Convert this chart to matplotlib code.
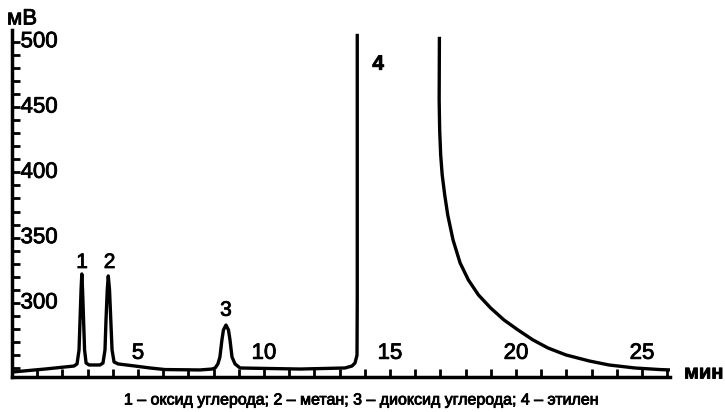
import matplotlib

matplotlib.use("Agg")

import numpy as np
from matplotlib import patheffects as pe
from matplotlib import pyplot as plt
from matplotlib.ticker import MultipleLocator
from matplotlib.transforms import blended_transform_factory

plt.rcParams["font.family"] = ["Liberation Sans", "DejaVu Sans"]

# chromatogram trace (minutes, mV)
time_min = [0.00, 1.31, 2.46, 2.58, 2.66, 2.70, 2.74, 2.77, 2.80, 2.84, 2.88, 2.94, 3.06,
            3.49, 3.61, 3.69, 3.73, 3.78, 3.82, 3.87, 3.92, 3.97, 4.05, 4.21,
            4.88, 5.48, 6.07, 7.46, 7.94,
            8.06, 8.17, 8.25, 8.33, 8.39, 8.49, 8.59, 8.65, 8.73, 8.85, 9.05,
            11.43, 13.21, 13.49, 13.61, 13.69, 13.70, 13.70]
signal_mv = [247.1, 249.4, 251.7, 253.3, 264.0, 287.0, 310.0, 322.2, 310.0, 287.0, 264.0, 254.0, 252.5,
             252.5, 254.0, 264.0, 287.0, 310.0, 320.7, 310.0, 287.0, 264.0, 254.8, 253.3,
             251.7, 250.2, 249.0, 248.7, 249.4,
             250.2, 253.3, 258.6, 271.7, 279.3, 283.1, 279.3, 271.7, 258.6, 253.3, 250.2,
             249.4, 250.2, 251.7, 254.0, 260.0, 302.0, 506.1]

# tail of the ethylene peak, after it comes back on scale
tail_min = [16.96, 16.95, 16.97, 17.01, 17.07, 17.17, 17.29, 17.50, 17.78, 18.11, 18.51,
            18.99, 19.52, 20.08, 20.67, 21.27, 21.98, 22.90, 23.69, 24.72, 25.71, 26.11]
tail_mv = [503.8, 455.6, 432.6, 413.4, 398.1, 382.8, 367.4, 348.3, 330.7, 317.6, 306.1,
           296.2, 287.0, 279.3, 271.7, 265.5, 260.2, 255.6, 252.5, 250.2, 249.0, 248.7]

peak_names = ["1", "2", "3", "4"]
peak_label_x = [2.78, 3.87, 8.49, 14.53]
peak_label_y = [331.0, 331.0, 294.4, 482.8]

x_tick_labels = [5, 10, 15, 20, 25]
y_tick_labels = [300, 350, 400, 450, 500]

caption = "1 – оксид углерода; 2 – метан; 3 – диоксид углерода; 4 – этилен"

W, H = 725, 412
fig = plt.figure(figsize=(W / 100, H / 100), dpi=100)
ax = fig.add_axes([12 / W, 35 / H, 658 / W, 347 / H])

# the scanned figure has slightly heavy type
heavy = [pe.withStroke(linewidth=0.6, foreground="black")]

for xs, ys in ((time_min, signal_mv), (tail_min, tail_mv)):
    ax.plot(xs, ys, color="black", lw=2.4, solid_joinstyle="round",
            solid_capstyle="butt")

ax.set_xlim(0, 26.11)
ax.set_ylim(243.3, 509)

for side in ("top", "right"):
    ax.spines[side].set_visible(False)
for side in ("left", "bottom"):
    ax.spines[side].set_linewidth(2.5)

ax.xaxis.set_major_locator(MultipleLocator(1))
ax.set_yticks(np.arange(250, 501, 10))
ax.tick_params(direction="in", length=5.5, width=2.0, labelbottom=False, labelleft=False)

tx = blended_transform_factory(ax.transData, ax.transAxes)
for v in x_tick_labels:
    ax.text(v, 0.038, str(v), transform=tx, ha="center", va="bottom", fontsize=16,
            path_effects=heavy)

ty = blended_transform_factory(ax.transAxes, ax.transData)
for v in y_tick_labels:
    ax.text(0.013, v, str(v), transform=ty, ha="left", va="center", fontsize=16,
            path_effects=heavy)

for name, px, py in zip(peak_names, peak_label_x, peak_label_y):
    ax.text(px, py, name, ha="center", va="center", fontsize=15,
            fontweight="bold" if name == "4" else "normal", path_effects=heavy)

fig.text(7 / W, 1 - 19 / H, "мВ", ha="left", va="center", fontsize=16,
         path_effects=heavy)
fig.text(684 / W, 1 - 373 / H, "мин", ha="left", va="center", fontsize=14.5,
         fontweight="bold", path_effects=heavy)
fig.text(362 / W, 1 - 400 / H, caption, ha="center", va="center", fontsize=11.5,
         path_effects=heavy)

fig.savefig("out.png", dpi=100)
